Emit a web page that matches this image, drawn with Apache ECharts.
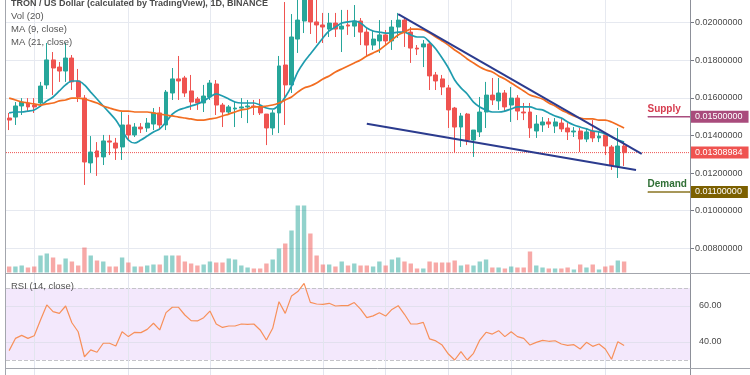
<!DOCTYPE html>
<html><head><meta charset="utf-8">
<script src="https://cdn.jsdelivr.net/npm/echarts@6/dist/echarts.min.js"></script>
<style>html,body{margin:0;padding:0;background:#fff}#c{width:750px;height:375px}</style>
</head><body><div id="c"></div>
<script>
// ---- data ----
const opens=[0.01493,0.01498,0.01557,0.01573,0.01562,0.01573,0.01669,0.01802,0.01764,0.01743,
0.01812,0.01690,0.01599,0.01254,0.01318,0.01286,0.01371,0.01360,0.01339,0.01456,
0.01403,0.01445,0.01440,0.01461,0.01520,0.01456,0.01626,0.01701,0.01706,0.01637,
0.01594,0.01573,0.01605,0.01674,0.01562,0.01525,0.01541,0.01546,0.01552,0.01557,
0.01552,0.01514,0.01440,0.01520,0.01775,0.01669,0.01913,0.02009,0.02147,0.02004,
0.01988,0.01966,0.01998,0.01966,0.01988,0.01982,0.02009,0.01950,0.01881,0.01903,
0.01935,0.01903,0.01977,0.02014,0.01950,0.01865,0.01871,0.01887,0.01722,0.01701,
0.01653,0.01546,0.01445,0.01514,0.01376,0.01419,0.01525,0.01615,0.01584,0.01626,
0.01562,0.01599,0.01525,0.01525,0.01424,0.01456,0.01472,0.01450,0.01466,0.01440,
0.01419,0.01424,0.01381,0.01424,0.01387,0.01403,0.01339,0.01238,0.01344];
const closes=[0.01482,0.01557,0.01578,0.01552,0.01552,0.01663,0.01802,0.01759,0.01743,0.01812,
0.01685,0.01605,0.01259,0.01312,0.01286,0.01371,0.01365,0.01333,0.01456,0.01403,
0.01445,0.01435,0.01466,0.01520,0.01456,0.01631,0.01701,0.01690,0.01626,0.01578,
0.01573,0.01610,0.01679,0.01562,0.01525,0.01552,0.01546,0.01552,0.01557,0.01552,
0.01520,0.01440,0.01520,0.01770,0.01669,0.01924,0.02014,0.02147,0.02004,0.01988,
0.01977,0.01998,0.01966,0.01982,0.01982,0.02009,0.01950,0.01881,0.01913,0.01935,
0.01903,0.01977,0.02014,0.01950,0.01865,0.01860,0.01887,0.01717,0.01690,0.01658,
0.01536,0.01445,0.01504,0.01376,0.01429,0.01525,0.01615,0.01589,0.01626,0.01552,
0.01599,0.01530,0.01520,0.01440,0.01461,0.01472,0.01461,0.01472,0.01435,0.01419,
0.01424,0.01381,0.01419,0.01387,0.01397,0.01344,0.01243,0.01344,0.01308984];
const lows=[0.01429,0.01456,0.01509,0.01525,0.01520,0.01552,0.01647,0.01615,0.01685,0.01685,
0.01642,0.01578,0.01137,0.01201,0.01185,0.01243,0.01296,0.01270,0.01270,0.01376,
0.01392,0.01413,0.01419,0.01429,0.01429,0.01429,0.01589,0.01589,0.01605,0.01536,
0.01536,0.01525,0.01589,0.01509,0.01445,0.01509,0.01445,0.01493,0.01466,0.01509,
0.01509,0.01349,0.01403,0.01413,0.01456,0.01626,0.01839,0.01945,0.01940,0.01892,
0.01892,0.01924,0.01924,0.01844,0.01935,0.01924,0.01881,0.01818,0.01855,0.01839,
0.01881,0.01855,0.01919,0.01871,0.01786,0.01828,0.01764,0.01642,0.01642,0.01615,
0.01440,0.01307,0.01339,0.01349,0.01286,0.01392,0.01440,0.01562,0.01536,0.01525,
0.01472,0.01482,0.01482,0.01387,0.01387,0.01419,0.01440,0.01413,0.01419,0.01376,
0.01392,0.01312,0.01365,0.01365,0.01365,0.01296,0.01217,0.01174,0.01238];
const highs=[0.01520,0.01578,0.01599,0.01599,0.01599,0.01685,0.01892,0.01844,0.01791,0.01892,
0.01828,0.01754,0.01615,0.01397,0.01365,0.01403,0.01403,0.01387,0.01525,0.01509,
0.01466,0.01466,0.01493,0.01546,0.01552,0.01642,0.01759,0.01823,0.01717,0.01722,
0.01605,0.01669,0.01695,0.01695,0.01573,0.01562,0.01578,0.01599,0.01589,0.01589,
0.01594,0.01514,0.01536,0.01823,0.02110,0.02046,0.02137,0.02201,0.02174,0.02121,
0.02052,0.02052,0.02052,0.02068,0.02068,0.02094,0.02025,0.01972,0.01961,0.02014,
0.01961,0.02014,0.02052,0.02025,0.01977,0.01881,0.01908,0.01897,0.01738,0.01722,
0.01669,0.01552,0.01520,0.01520,0.01429,0.01605,0.01685,0.01706,0.01706,0.01642,
0.01658,0.01615,0.01573,0.01573,0.01509,0.01498,0.01493,0.01493,0.01493,0.01466,
0.01445,0.01440,0.01440,0.01482,0.01419,0.01413,0.01349,0.01440,0.01365];
const volumes=[6,6,7,5,6,17,19,15,8,14,11,7,25,17,12,11,6,6,15,10,
6,6,7,8,8,17,17,17,11,9,7,8,11,10,10,14,13,7,5,4,
4,9,13,24,29,42,67,67,39,17,8,8,6,11,7,9,7,7,6,11,
7,13,15,11,9,4,4,11,10,10,10,12,7,8,7,11,13,5,5,4,
6,5,5,21,7,5,4,4,4,5,3,8,5,8,3,6,7,12,11];
const ma9=[0.01520,0.01525,0.01525,0.01530,0.01536,0.01557,0.01584,0.01605,0.01637,0.01669,
0.01690,0.01690,0.01669,0.01631,0.01594,0.01557,0.01520,0.01482,0.01429,0.01376,
0.01360,0.01376,0.01397,0.01419,0.01435,0.01472,0.01514,0.01536,0.01546,0.01557,
0.01568,0.01584,0.01605,0.01621,0.01610,0.01594,0.01578,0.01573,0.01573,0.01573,
0.01562,0.01546,0.01541,0.01562,0.01605,0.01663,0.01738,0.01791,0.01833,0.01876,
0.01919,0.01956,0.01977,0.01998,0.02004,0.02009,0.01998,0.01972,0.01956,0.01950,
0.01945,0.01945,0.01950,0.01950,0.01935,0.01924,0.01924,0.01897,0.01860,0.01812,
0.01759,0.01695,0.01653,0.01621,0.01578,0.01552,0.01536,0.01525,0.01525,0.01530,
0.01541,0.01552,0.01552,0.01552,0.01541,0.01536,0.01520,0.01504,0.01493,0.01472,
0.01456,0.01445,0.01435,0.01424,0.01419,0.01408,0.01392,0.01376,0.01365];
const ma21=[0.01599,0.01589,0.01578,0.01573,0.01568,0.01562,0.01568,0.01573,0.01584,0.01589,
0.01599,0.01599,0.01594,0.01584,0.01573,0.01557,0.01546,0.01536,0.01530,0.01530,
0.01525,0.01525,0.01525,0.01520,0.01514,0.01509,0.01504,0.01498,0.01493,0.01488,
0.01482,0.01482,0.01488,0.01493,0.01504,0.01514,0.01525,0.01536,0.01541,0.01552,
0.01552,0.01557,0.01562,0.01573,0.01589,0.01605,0.01631,0.01653,0.01663,0.01679,
0.01701,0.01717,0.01738,0.01754,0.01770,0.01786,0.01802,0.01823,0.01839,0.01855,
0.01881,0.01908,0.01935,0.01950,0.01966,0.01966,0.01961,0.01945,0.01924,0.01903,
0.01881,0.01855,0.01833,0.01807,0.01786,0.01764,0.01748,0.01738,0.01717,0.01701,
0.01679,0.01658,0.01637,0.01615,0.01605,0.01594,0.01573,0.01557,0.01536,0.01520,
0.01504,0.01493,0.01488,0.01488,0.01482,0.01482,0.01472,0.01456,0.01440];
const rsi=[35.2,42.0,43.7,42.0,43.5,52.2,60.6,56.9,55.9,60.0,
50.7,45.7,31.8,35.6,34.3,39.3,39.3,37.8,45.7,43.0,
45.4,45.2,47.0,50.4,46.7,56.3,59.3,59.3,55.0,51.9,
51.7,53.5,57.2,50.0,48.1,48.9,48.9,50.0,49.8,50.0,
46.7,41.1,47.6,62.4,55.9,65.6,68.0,72.6,62.0,61.1,
60.9,61.5,60.0,60.2,60.2,61.9,58.3,53.5,54.5,56.3,
54.4,58.1,60.2,55.4,50.0,50.0,50.9,41.7,40.6,38.3,
33.3,30.0,34.6,30.0,33.7,41.1,45.4,44.4,46.3,43.0,
45.7,43.0,42.0,38.3,39.8,40.9,40.4,40.7,38.9,38.1,
38.5,36.1,39.8,37.6,38.9,36.1,30.4,40.2,38.0];
// drawn trend lines: [slot index, price]
const upperTrend=[[62.0,0.02045],[100.8,0.01302]];
const lowerTrend=[[57.0,0.01463],[99.9,0.01217]];
const supplyLevel=0.015, demandLevel=0.011;
const levelSpan=[101.8,108.5];
const priceTicks={min:0.006,max:0.022,step:0.002};
const rsiTicks={min:20,max:80,step:20};
const vGrid=[4,19,32,50,60,70,80,95];
const N_SLOTS=109;
const days=[];for(let i=0;i<N_SLOTS;i++)days.push('D'+(i+1));

const UP='#26a69a', DN='#ef5350';
const ff='"Liberation Sans", Arial, sans-serif';
const candles=opens.map((o,i)=>[o,closes[i],lows[i],highs[i]]);
const volData=volumes.map((v,i)=>({value:v,itemStyle:{color:closes[i]>=opens[i]?'rgba(38,166,154,0.5)':'rgba(239,83,80,0.5)'}}));
const lastClose=closes[closes.length-1];
const gridLineColor='#e6e9f0';
const txt=(t,top,bold)=>({text:t,left:11,top:top,padding:0,textStyle:{fontSize:bold?9:9.5,fontWeight:bold?'bold':'normal',color:bold?'#4a4a4a':'#555',fontFamily:ff}});
const badge=(bg,val)=>({show:true,position:'end',distance:0,color:'#fff',backgroundColor:bg,padding:[2,6,1,5],fontSize:9,fontFamily:ff,formatter:()=>val.toFixed(8)});
const hiddenLine={color:'rgba(0,0,0,0)',width:0};

const chart=echarts.init(document.getElementById('c'),null,{renderer:'canvas'});
chart.setOption({
  animation:false,
  backgroundColor:'#fff',
  title:[txt('TRON / US Dollar (calculated by TradingView), 1D, BINANCE',-1,true),txt('Vol (20)',11),txt('MA (9, close)',24),txt('MA (21, close)',37),txt('RSI (14, close)',281)],
  grid:[
    {left:6,right:60,top:-14.9,height:300.8,outerBoundsMode:'none',containLabel:false},
    {left:6,right:60,top:202.5,height:70,outerBoundsMode:'none',containLabel:false},
    {left:6,right:60,top:270,height:108,outerBoundsMode:'none',containLabel:false}
  ],
  xAxis:[
    {type:'category',gridIndex:0,data:days,boundaryGap:true,show:false},
    {type:'category',gridIndex:1,data:days,boundaryGap:true,show:false},
    {type:'category',gridIndex:2,data:days,boundaryGap:true,show:false},
    {type:'value',gridIndex:0,min:-0.5,max:N_SLOTS-0.5,show:false,axisLine:{onZero:false}}
  ],
  yAxis:[
    {type:'value',gridIndex:0,position:'right',min:priceTicks.min,max:priceTicks.max,interval:priceTicks.step,
     axisLine:{show:false,onZero:false},axisTick:{show:true,length:4,lineStyle:{color:'#787b86'}},
     axisLabel:{margin:5,fontSize:9,color:'#4a4a4a',fontFamily:ff,showMinLabel:false,showMaxLabel:false,formatter:v=>v.toFixed(8)},
     splitLine:{show:true,showMinLine:false,showMaxLine:false,lineStyle:{color:gridLineColor}}},
    {type:'value',gridIndex:1,min:0,max:70,show:false},
    {type:'value',gridIndex:2,position:'right',min:rsiTicks.min,max:rsiTicks.max,interval:rsiTicks.step,
     axisLine:{show:false,onZero:false},axisTick:{show:false},
     axisLabel:{margin:9,fontSize:9,color:'#4a4a4a',fontFamily:ff,formatter:v=>(v===40||v===60)?v.toFixed(2):''},
     splitLine:{show:false}}
  ],
  series:[
    {type:'line',name:'grid',xAxisIndex:0,yAxisIndex:0,data:closes,showSymbol:false,lineStyle:hiddenLine,z:0,silent:true,
     markLine:{silent:true,symbol:['none','none'],z:0,label:{show:false},lineStyle:{color:gridLineColor,type:'solid',width:1},
       data:vGrid.map(i=>({xAxis:days[i]}))}},
    {type:'bar',name:'Vol',xAxisIndex:1,yAxisIndex:1,data:volData,barWidth:'70%',z:1},
    {type:'candlestick',name:'TRXUSD',xAxisIndex:0,yAxisIndex:0,data:candles,barWidth:'70%',z:3,
     itemStyle:{color:UP,color0:DN,borderColor:UP,borderColor0:DN,borderWidth:1}},
    {type:'line',name:'last',xAxisIndex:3,yAxisIndex:0,data:[[-0.5,lastClose],[N_SLOTS-0.5,lastClose]],showSymbol:false,z:2,
     lineStyle:{color:DN,type:'dotted',width:1},
     markLine:{silent:true,precision:10,symbol:['none','none'],z:10,lineStyle:hiddenLine,label:badge('#ef5350',lastClose),data:[{yAxis:lastClose}]}},
    {type:'line',name:'MA9',xAxisIndex:0,yAxisIndex:0,data:ma9,showSymbol:false,smooth:0.3,z:4,lineStyle:{color:'#1f9cae',width:1.7}},
    {type:'line',name:'MA21',xAxisIndex:0,yAxisIndex:0,data:ma21,showSymbol:false,smooth:0.3,z:4,lineStyle:{color:'#f26d21',width:1.7}},
    {type:'line',name:'upper',xAxisIndex:3,yAxisIndex:0,data:upperTrend,showSymbol:false,z:5,lineStyle:{color:'#2b3b8e',width:2}},
    {type:'line',name:'lower',xAxisIndex:3,yAxisIndex:0,data:lowerTrend,showSymbol:false,z:5,lineStyle:{color:'#2b3b8e',width:2}},
    {type:'line',name:'supply',xAxisIndex:3,yAxisIndex:0,z:6,symbol:'circle',symbolSize:1,itemStyle:{color:'#a94d7e'},
     data:[{value:[levelSpan[0],supplyLevel],label:{show:true,formatter:'Supply',position:[0,-12],color:'#d63b4e',fontWeight:'bold',fontSize:10,fontFamily:ff}},[levelSpan[1],supplyLevel]],
     lineStyle:{color:'#a94d7e',width:1.5},
     markLine:{silent:true,precision:10,symbol:['none','none'],z:10,lineStyle:hiddenLine,label:badge('#a94b7c',supplyLevel),data:[{yAxis:supplyLevel}]}},
    {type:'line',name:'demand',xAxisIndex:3,yAxisIndex:0,z:6,symbol:'circle',symbolSize:1,itemStyle:{color:'#8a7422'},
     data:[{value:[levelSpan[0],demandLevel],label:{show:true,formatter:'Demand',position:[0,-12],color:'#2f6f35',fontWeight:'bold',fontSize:10,fontFamily:ff}},[levelSpan[1],demandLevel]],
     lineStyle:{color:'#8a7422',width:1.5},
     markLine:{silent:true,precision:10,symbol:['none','none'],z:10,lineStyle:hiddenLine,label:badge('#7c6000',demandLevel),data:[{yAxis:demandLevel}]}},
    {type:'line',name:'RSI',xAxisIndex:2,yAxisIndex:2,data:rsi,showSymbol:false,z:4,lineStyle:{color:'#f7905a',width:1.2},
     markArea:{silent:true,z:0,itemStyle:{color:'#f3e8fc'},data:[[{yAxis:30},{yAxis:70}]]},
     markLine:{silent:true,symbol:['none','none'],z:1,label:{show:false},
       data:[{yAxis:70,lineStyle:{type:'dashed',color:'#c4c4c8',width:1}},{yAxis:30,lineStyle:{type:'dashed',color:'#c4c4c8',width:1}},
             {yAxis:60,lineStyle:{type:'solid',color:'#e2e0ee',width:1}},{yAxis:40,lineStyle:{type:'solid',color:'#e2e0ee',width:1}}]
             .concat(vGrid.map(i=>({xAxis:days[i],lineStyle:{type:'solid',color:'#e2e5ee',width:1}})))}}
  ],
  graphic:[
    {type:'line',shape:{x1:5.5,y1:0,x2:5.5,y2:375},style:{stroke:'#a3a6ad',lineWidth:1},z:20},
    {type:'line',shape:{x1:690.5,y1:0,x2:690.5,y2:375},style:{stroke:'#8d9099',lineWidth:1},z:20},
    {type:'line',shape:{x1:5,y1:273.5,x2:750,y2:273.5},style:{stroke:'#a3a6ad',lineWidth:1},z:20},
    {type:'line',shape:{x1:5,y1:368.5,x2:750,y2:368.5},style:{stroke:'#a3a6ad',lineWidth:1},z:20}
  ]
});
</script></body></html>
